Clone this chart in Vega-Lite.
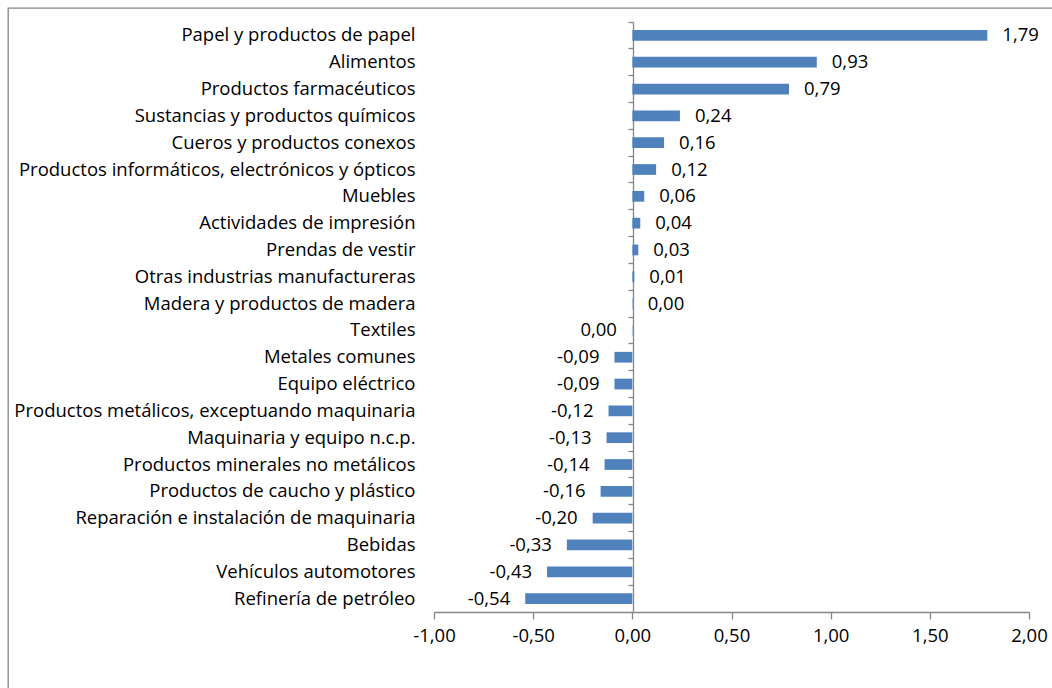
{
  "$schema": "https://vega.github.io/schema/vega-lite/v6.json",
  "autosize": {"type": "none"},
  "padding": {"left": 8, "top": 8, "right": -4, "bottom": -4},
  "width": 1048,
  "height": 684,
  "background": "white",
  "config": {
    "locale": {"number": {"decimal": ",", "thousands": ".", "grouping": [3], "currency": ["", " €"], "minus": "-"}},
    "view": {"stroke": "#868686", "strokeWidth": 1.3},
    "font": "Open Sans",
    "axis": {"labelFont": "Open Sans", "labelFontSize": 18.5, "labelColor": "#000000", "grid": false, "title": null}
  },
  "data": {
    "values": [
      {"sector": "Papel y productos de papel", "value": 1.79},
      {"sector": "Alimentos", "value": 0.93},
      {"sector": "Productos farmacéuticos", "value": 0.79},
      {"sector": "Sustancias y productos químicos", "value": 0.24},
      {"sector": "Cueros y productos conexos", "value": 0.16},
      {"sector": "Productos informáticos, electrónicos y ópticos", "value": 0.12},
      {"sector": "Muebles", "value": 0.06},
      {"sector": "Actividades de impresión", "value": 0.04},
      {"sector": "Prendas de vestir", "value": 0.03},
      {"sector": "Otras industrias manufactureras", "value": 0.01},
      {"sector": "Madera y productos de madera", "value": 0.002},
      {"sector": "Textiles", "value": -0.002},
      {"sector": "Metales comunes", "value": -0.09},
      {"sector": "Equipo eléctrico", "value": -0.09},
      {"sector": "Productos metálicos, exceptuando maquinaria", "value": -0.12},
      {"sector": "Maquinaria y equipo n.c.p.", "value": -0.13},
      {"sector": "Productos minerales no metálicos", "value": -0.14},
      {"sector": "Productos de caucho y plástico", "value": -0.16},
      {"sector": "Reparación e instalación de maquinaria", "value": -0.2},
      {"sector": "Bebidas", "value": -0.33},
      {"sector": "Vehículos automotores", "value": -0.43},
      {"sector": "Refinería de petróleo", "value": -0.54}
    ]
  },
  "resolve": {"scale": {"y": "independent"}, "axis": {"y": "independent"}},
  "layer": [
    {
      "encoding": {
        "y": {
          "field": "sector", "type": "nominal", "sort": null,
          "scale": {"type": "band", "range": [14, 604], "paddingInner": 0.6, "paddingOuter": 0.3},
          "axis": {"orient": "left", "offset": -407, "domain": false, "ticks": false, "tickSize": 0, "labelPadding": 0, "labelLimit": 700}
        },
        "x": {
          "field": "value", "type": "quantitative",
          "scale": {"domain": [-1, 2], "range": [426, 1021], "nice": false, "zero": false},
          "axis": {"orient": "bottom", "offset": -80, "values": [-1, -0.5, 0, 0.5, 1, 1.5, 2], "format": ".2f", "domainColor": "#868686", "domainWidth": 1.3, "tickColor": "#868686", "tickWidth": 1.3, "tickSize": 7, "labelPadding": 7, "labelFlush": false}
        }
      },
      "layer": [
        {"mark": {"type": "bar", "color": "#4F81BD", "orient": "horizontal"}, "encoding": {"x2": {"datum": 0}}},
        {
          "transform": [{"filter": "datum.value >= 0"}],
          "mark": {"type": "text", "align": "left", "dx": 15, "fontSize": 18.5, "font": "Open Sans", "color": "#000000"},
          "encoding": {"text": {"field": "value", "type": "quantitative", "format": ".2f"}}
        },
        {
          "transform": [{"filter": "datum.value < 0"}],
          "mark": {"type": "text", "align": "right", "dx": -15, "fontSize": 18.5, "font": "Open Sans", "color": "#000000"},
          "encoding": {"text": {"field": "value", "type": "quantitative", "format": ".2f"}}
        }
      ]
    },
    {
      "mark": {"type": "point", "opacity": 0},
      "encoding": {
        "y": {
          "field": "sector", "type": "nominal", "sort": null,
          "scale": {"type": "band", "range": [14, 604], "paddingInner": 0, "paddingOuter": 0},
          "axis": {"orient": "left", "offset": -625, "domain": true, "domainColor": "#868686", "domainWidth": 1.3, "ticks": true, "tickColor": "#868686", "tickWidth": 1.3, "tickSize": 5, "bandPosition": 0, "labels": false}
        }
      }
    }
  ]
}
